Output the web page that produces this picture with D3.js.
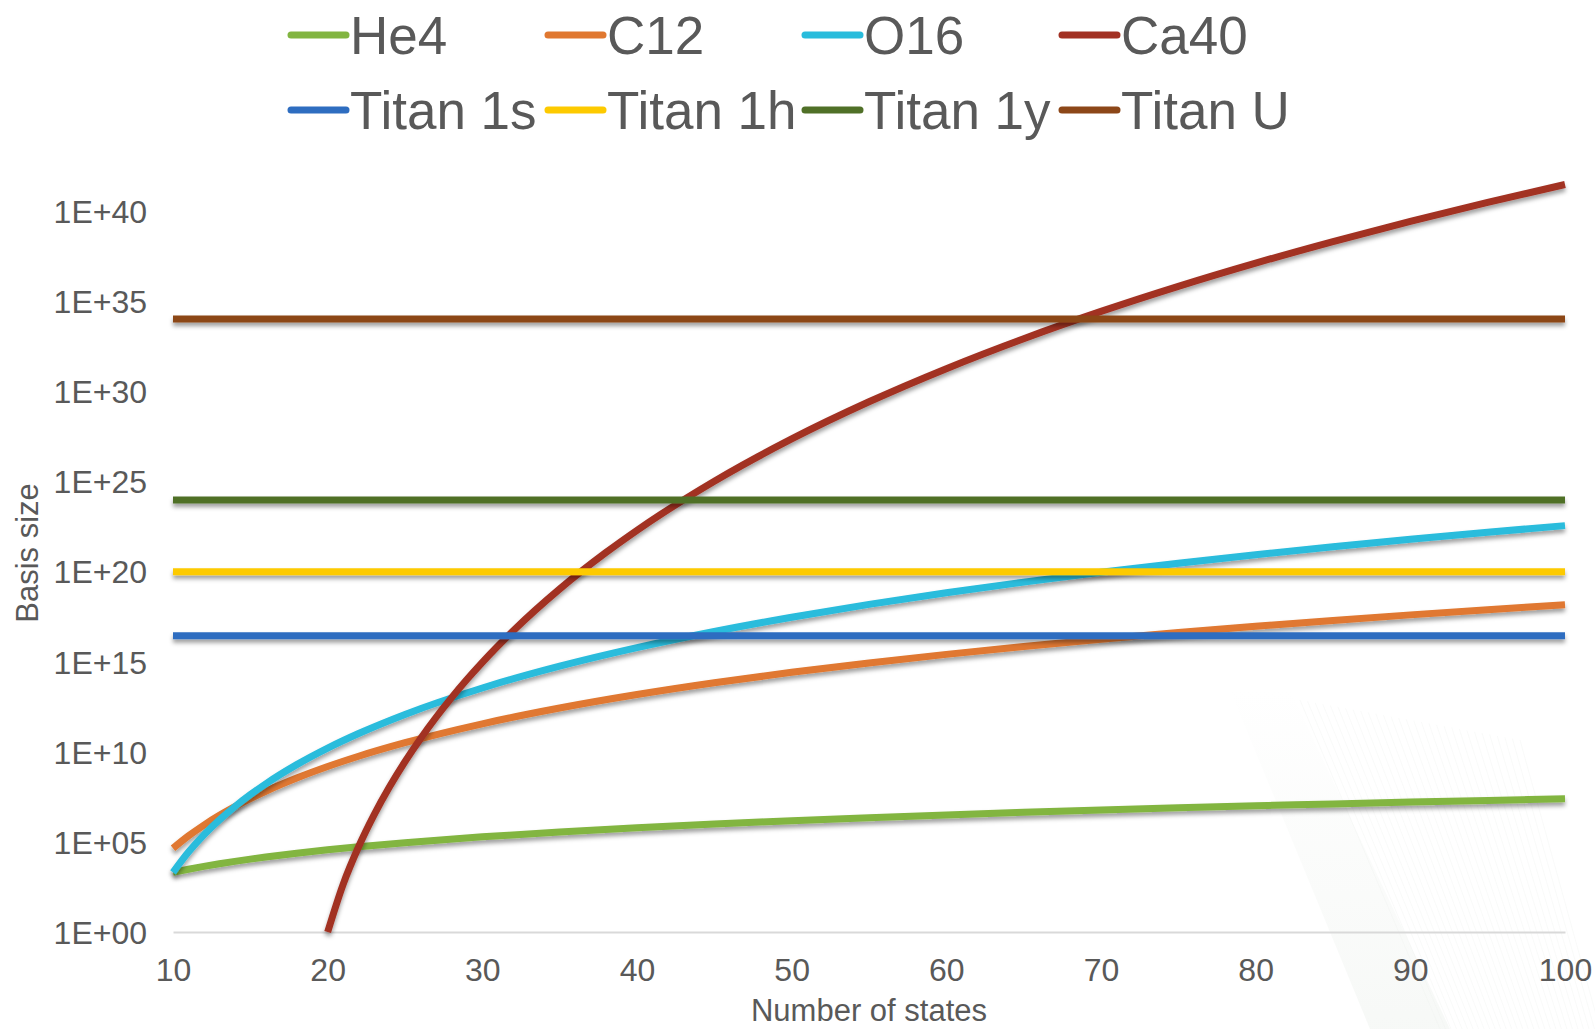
<!DOCTYPE html>
<html>
<head>
<meta charset="utf-8">
<script src="https://cdn.jsdelivr.net/npm/d3@7"></script>
<style>
  html, body { margin: 0; padding: 0; background: #ffffff; }
  svg { display: block; }
  text { font-family: "Liberation Sans", Arial, sans-serif; fill: #595959; }
</style>
</head>
<body>
<svg id="chart" width="1595" height="1029"></svg>
<script>
// Number of single-particle states on the x axis (He4, C12, O16 curves)
const nStates = [10, 11, 12, 13, 14, 15, 16, 18, 20, 22, 25, 30, 35, 40, 45, 50, 55, 60, 65, 70, 75, 80, 85, 90, 95, 100];

// Basis size for each nucleus
const he4 = [2025, 3025, 4356, 6084, 8281, 11025, 14400, 23409, 36100, 53361, 90000, 189225, 354025, 608400, 980100,
  1500625, 2205225, 3132900, 4326400, 5832225, 7700625, 9985600, 12744900, 16040025, 19936225, 24502500];
const c12 = [44100, 213444, 853776, 2944656, 9018009, 2.505e7, 6.4128e7, 3.4462e8, 1.5023e9, 5.5671e9, 3.1364e10,
  3.5257e11, 2.6346e12, 1.4733e13, 6.6342e13, 2.5251e14, 8.4040e14, 2.5064e15, 6.8226e15, 1.7191e16, 4.0546e16,
  9.0300e16, 1.9128e17, 3.8765e17, 7.5535e17, 1.4210e18];
const o16 = [2025, 27225, 245025, 1656369, 9018009, 4.1409e7, 1.6564e8, 1.9148e9, 1.5868e10, 1.0225e11, 1.1698e12,
  3.4257e13, 5.5393e14, 5.9143e15, 4.6463e16, 2.8824e17, 1.4825e18, 6.5465e18, 2.5476e19, 8.9120e19, 2.8463e20,
  8.4028e20, 2.3160e21, 6.0086e21, 1.4775e22, 3.4629e22];

// Ca40 starts at 20 states
const caStates = [20, 21, 22, 23, 24, 25, 26, 27, 28, 29, 30, 32, 35, 38, 40, 45, 50, 55, 60, 65, 70, 75, 80, 85, 90, 95, 100];
const ca40 = [1, 441, 53361, 3136441, 1.12912e8, 2.8228e9, 5.3006e10, 7.8860e11, 9.6603e12, 1.0030e14, 9.0270e14,
  5.0982e16, 1.0549e19, 1.1275e21, 1.9002e22, 1.0048e25, 2.2212e27, 2.5507e29, 1.7572e31, 8.0316e32, 2.6207e34,
  6.4508e35, 1.2498e37, 1.9711e38, 2.5991e39, 2.9291e40, 2.8729e41];

// Reachable basis sizes for the Titan machine over different time spans
const titanNames = ["Titan 1s", "Titan 1h", "Titan 1y", "Titan U"];
const titanLevels = [2.7e16, 9.7e19, 9.0e23, 1.0e34];

const nucleusNames = ["He4", "C12", "O16", "Ca40"];
const xTicks = [10, 20, 30, 40, 50, 60, 70, 80, 90, 100];
const yTicks = [1e0, 1e5, 1e10, 1e15, 1e20, 1e25, 1e30, 1e35, 1e40];

const colors = {
  "He4": "#82b541", "C12": "#e07830", "O16": "#29bcdc", "Ca40": "#a23123",
  "Titan 1s": "#2e6dc0", "Titan 1h": "#fdca00", "Titan 1y": "#507028", "Titan U": "#8c4718"
};

const svg = d3.select("#chart");
const defs = svg.append("defs");

// faint fan of background strokes in the lower right corner
const fade = defs.append("linearGradient").attr("id", "fade")
  .attr("x1", 0).attr("y1", 0).attr("x2", 0).attr("y2", 1);
fade.append("stop").attr("offset", "0").attr("stop-color", "#f5f7f5").attr("stop-opacity", 0);
fade.append("stop").attr("offset", "0.4").attr("stop-color", "#f5f7f5").attr("stop-opacity", 0.35);
fade.append("stop").attr("offset", "1").attr("stop-color", "#f3f6f3").attr("stop-opacity", 0.7);
const deco = svg.append("g");
deco.append("path")
  .attr("d", "M1230,690 L1290,690 L1450,1029 L1370,1029 Z")
  .attr("fill", "url(#fade)");
const fanLines = deco.append("g");
for (let i = 0; i < 30; i++) {
  const t = i / 29;
  fanLines.append("path")
    .attr("d", `M${1300 + t * 220},${700 + t * 40} L${1440 + t * 160},1029`)
    .attr("stroke", "#eef1ee").attr("stroke-opacity", 0.5).attr("stroke-width", 0.7).attr("fill", "none");
}

const shadow = defs.append("filter").attr("id", "shadow")
  .attr("filterUnits", "userSpaceOnUse")
  .attr("x", 0).attr("y", 0).attr("width", 1595).attr("height", 1029);
shadow.append("feDropShadow")
  .attr("dx", 0).attr("dy", 3.5).attr("stdDeviation", 2)
  .attr("flood-color", "#000").attr("flood-opacity", 0.38);

const x = d3.scaleLinear().domain([10, 100]).range([173, 1565]);
const y = d3.scaleLog().domain([1, 1e40]).range([932, 210.8]);

// x axis baseline and labels
const xAxis = svg.append("g").attr("transform", `translate(0,${y(1)})`)
  .call(d3.axisBottom(x).tickValues(xTicks).tickSize(0).tickPadding(49).tickFormat(d3.format("d")));
xAxis.select(".domain").attr("stroke", "#d9d9d9").attr("stroke-width", 2);
xAxis.selectAll("text").attr("font-size", 32).attr("fill", "#595959")
  .attr("font-family", "Liberation Sans, Arial, sans-serif").attr("dy", 0);

// y axis labels only
const fmtE = d => "1E+" + String(Math.round(Math.log10(d))).padStart(2, "0");
const yAxis = svg.append("g").attr("transform", "translate(147,0)")
  .call(d3.axisLeft(y).tickValues(yTicks).tickSize(0).tickPadding(0).tickFormat(fmtE));
yAxis.select(".domain").remove();
yAxis.selectAll("text").attr("font-size", 32).attr("fill", "#595959")
  .attr("font-family", "Liberation Sans, Arial, sans-serif").attr("dy", "0.36em");

// axis titles
svg.append("text").attr("x", x(55)).attr("y", 1021).attr("text-anchor", "middle")
  .attr("font-size", 31).text("Number of states");
svg.append("text").attr("transform", "translate(38,553) rotate(-90)").attr("text-anchor", "middle")
  .attr("font-size", 31).text("Basis size");

const line = d3.line().x(d => x(d[0])).y(d => y(d[1])).curve(d3.curveMonotoneX);

const nucleusSeries = [
  { name: "He4", xs: nStates, ys: he4 },
  { name: "C12", xs: nStates, ys: c12 },
  { name: "O16", xs: nStates, ys: o16 },
  { name: "Ca40", xs: caStates, ys: ca40 }
];
const xExtent = d3.extent(nStates);
const titanSeries = titanNames.map((name, i) => ({ name, xs: xExtent, ys: [titanLevels[i], titanLevels[i]] }));

const plot = svg.append("g");
plot.selectAll("path.series")
  .data(nucleusSeries.concat(titanSeries))
  .join("path")
  .attr("class", "series")
  .attr("d", s => line(s.xs.map((v, i) => [v, s.ys[i]])))
  .attr("fill", "none")
  .attr("stroke", s => colors[s.name])
  .attr("stroke-width", 7)
  .attr("stroke-linejoin", "round")
  .attr("filter", "url(#shadow)");

// legend: two rows of four entries
const legendNames = nucleusNames.concat(titanNames);
const legend = svg.append("g");
const item = legend.selectAll("g.item").data(legendNames).join("g")
  .attr("class", "item")
  .attr("transform", (d, i) => `translate(${291 + (i % 4) * 257},${i < 4 ? 35 : 110})`);
item.append("line").attr("x1", 0).attr("x2", 55).attr("y1", 0).attr("y2", 0)
  .attr("stroke", d => colors[d]).attr("stroke-width", 7).attr("stroke-linecap", "round");
item.append("text").attr("x", 59).attr("y", 19).attr("font-size", 53).text(d => d);
</script>
</body>
</html>
